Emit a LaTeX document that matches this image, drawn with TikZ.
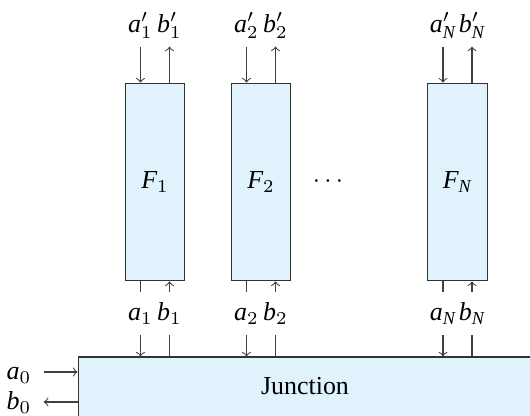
\documentclass[tikz,border=0pt]{standalone}
\usepackage{fontspec}
\setmainfont{Liberation Serif}
\usepackage{xcolor}
\usepackage{tikz}
\usetikzlibrary{positioning}
\definecolor{azzurro}{RGB}{224,242,251}
\newcommand{\vi}[1]{\mathit{#1}}

\begin{document}
\begin{tikzpicture}[x=0.1355cm, y=0.1355cm, every node/.style={inner sep=0pt},
    blocco/.style={draw=black!80, fill=azzurro, minimum width=0.81cm, minimum height=2.68cm},
    etich/.style={minimum height=0.57cm, text height=1.5ex, text depth=0.3ex},
    freccia/.style={draw=black!75, ->}]
    \useasboundingbox (0,0) rectangle (53,41.5);

    % Giunzione
    \node[draw=black!80, fill=azzurro, minimum width=6.15cm, minimum height=0.8cm] (J) at (30.5,2.85) {Junction};
    \node[etich, inner xsep=4.6pt] (a0) at (1.9,4.3) {$\vi{a}_0$};
    \node[etich, inner xsep=4.6pt] (b0) at (1.9,1.3) {$\vi{b}_0$};
    \draw[freccia] (a0) -- (a0 -| J.west);
    \draw[freccia] (b0 -| J.west) -- (b0);

    % Blocchi
    \foreach \i/\x/\n in {1/15.5/1, 2/26.1/2, 3/45.75/\vi{N}} {
        \node[blocco] (F\i) at (\x,23.3) {$\vi{F}_{\n}$};
        \node[etich] (ap\i) at (\x-1.45,39) {$\vi{a}'_{\n}$};
        \node[etich] (bp\i) at (\x+1.45,39) {$\vi{b}'_{\n}$};
        \node[etich] (a\i) at (\x-1.45,10.15) {$\vi{a}_{\n}$};
        \node[etich] (b\i) at (\x+1.45,10.15) {$\vi{b}_{\n}$};
        \draw[freccia] (ap\i) -- (ap\i |- F\i.north);
        \draw[freccia] (bp\i |- F\i.north) -- (bp\i);
        \draw[draw=black!75] (F\i.south -| a\i) -- (a\i);
        \draw[freccia] (a\i) -- (a\i |- J.north);
        \draw[draw=black!75] (b\i |- J.north) -- (b\i);
        \draw[freccia] (b\i) -- (F\i.south -| b\i);
    }
    \node (dots) at (32.8,23.3) {$\cdots$};
\end{tikzpicture}
\end{document}
